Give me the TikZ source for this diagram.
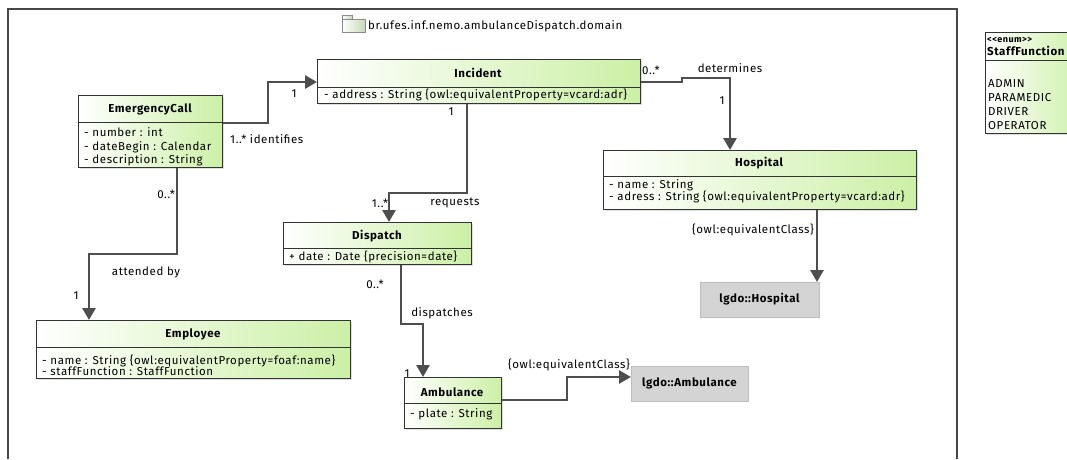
\documentclass[tikz,border=0pt]{standalone}
\usepackage{fontspec}
\setmainfont{Fira Sans}[LetterSpace=5]
\usetikzlibrary{arrows.meta,shadows}

\definecolor{umlgreen}{RGB}{204,240,166}
\definecolor{linegray}{RGB}{78,78,78}
\definecolor{boxgray}{RGB}{212,212,212}
\definecolor{boxedge}{RGB}{190,190,190}
\definecolor{framegray}{RGB}{72,72,72}

\tikzset{
  cls/.style={draw=black!80, line width=0.8pt, left color=white, right color=umlgreen,
    anchor=north west, inner sep=0pt,
    drop shadow={opacity=0.25, shadow xshift=1.5pt, shadow yshift=-1.5pt}},
  ext/.style={draw=boxedge, fill=boxgray, line width=0.8pt, anchor=north west, inner sep=0pt},
  ctitle/.style={font=\fontsize{11.5}{13}\selectfont\bfseries, inner sep=0pt},
  attr/.style={font=\fontsize{11.5}{13}\selectfont, anchor=west, inner sep=0pt,
    text height=8.5pt, text depth=2.5pt},
  lbl/.style={font=\fontsize{11.5}{13}\selectfont, inner sep=0pt},
  sep/.style={draw=black!80, line width=0.8pt},
  assoc/.style={draw=linegray, line width=2.8pt, -{Triangle[length=12pt,width=13pt]}},
}

\begin{document}
\begin{tikzpicture}[x=1pt, y=-1pt]
  \useasboundingbox (0,0) rectangle (1067,459);

  % package frame
  \draw[framegray, line width=1.4pt] (8,459) -- (8,9) -- (957,9) -- (957,459);
  \fill[left color=white, right color=umlgreen!80!black!60, draw=black!45, line width=0.6pt]
    (342,15) rectangle (352,19);
  \fill[left color=white, right color=umlgreen!80!black!60, draw=black!45, line width=0.6pt]
    (342,19) rectangle (365,32);
  \node[lbl, anchor=west] (pkg) at (368,26) {br.ufes.inf.nemo.ambulanceDispatch.domain};

  % EmergencyCall
  \node[cls, minimum width=144, minimum height=72] (call) at (78,95) {};
  \draw[sep] (78,122) -- (222,122);
  \node[ctitle] (callT) at (150,109) {EmergencyCall};
  \node[attr] (callR1) at (84,133) {- number : int};
  \node[attr] (callR2) at (84,147) {- dateBegin : Calendar};
  \node[attr] (callR3) at (84,160) {- description : String};

  % Incident
  \node[cls, minimum width=323, minimum height=44] (incident) at (317,59) {};
  \draw[sep] (317,87) -- (640,87);
  \node[ctitle] (incidentT) at (478,73) {Incident};
  \node[attr] (incidentR1) at (324,95) {- address : String \{owl:equivalentProperty=vcard:adr\}};

  % Dispatch
  \node[cls, minimum width=188, minimum height=42] (dispatch) at (283,222) {};
  \draw[sep] (283,248) -- (471,248);
  \node[ctitle] (dispatchT) at (377,236) {Dispatch};
  \node[attr] (dispatchR1) at (289,257) {+ date : Date \{precision=date\}};

  % Employee
  \node[cls, minimum width=314, minimum height=58] (employee) at (36,320) {};
  \draw[sep] (36,347) -- (350,347);
  \node[ctitle] (employeeT) at (193,334) {Employee};
  \node[attr] (employeeR1) at (42,361) {- name : String \{owl:equivalentProperty=foaf:name\}};
  \node[attr] (employeeR2) at (42,372) {- staffFunction : StaffFunction};

  % Ambulance
  \node[cls, minimum width=97, minimum height=51] (ambulance) at (404,377) {};
  \draw[sep] (404,403) -- (501,403);
  \node[ctitle] (ambulanceT) at (452,392) {Ambulance};
  \node[attr] (ambulanceR1) at (410,414) {- plate : String};

  % Hospital
  \node[cls, minimum width=313, minimum height=59] (hospital) at (603,150) {};
  \draw[sep] (603,176) -- (916,176);
  \node[ctitle] (hospitalT) at (759,163) {Hospital};
  \node[attr] (hospitalR1) at (609,185) {- name : String};
  \node[attr] (hospitalR2) at (609,197) {- adress : String \{owl:equivalentProperty=vcard:adr\}};

  % external classes
  \node[ext, minimum width=119, minimum height=35] (lgdoH) at (700,282) {};
  \node[ctitle] (lgdoHT) at (759.5,299.5) {lgdo::Hospital};
  \node[ext, minimum width=117, minimum height=35] (lgdoA) at (631,366) {};
  \node[ctitle] (lgdoAT) at (689.5,383.5) {lgdo::Ambulance};

  % StaffFunction enum
  \node[cls, minimum width=100, minimum height=101] (staff) at (985,32) {};
  \draw[sep] (985,60) -- (1085,60);
  \node[ctitle, anchor=west, font=\fontsize{9}{10}\selectfont\bfseries] (staffS) at (987,40) {{<}{<}enum{>}{>}};
  \node[ctitle, anchor=west] (staffT) at (987,51) {StaffFunction};
  \node[attr] (staffR1) at (988,84) {ADMIN};
  \node[attr] (staffR2) at (988,98) {PARAMEDIC};
  \node[attr] (staffR3) at (988,112) {DRIVER};
  \node[attr] (staffR4) at (988,126) {OPERATOR};

  % associations
  \draw[assoc] (call.east |- 0,123) -| (268,82) -- (incident.west |- 0,82);
  \draw[assoc] (incident.south -| 467,0) -- (467,193) -| (dispatch.north -| 389,0);
  \draw[assoc] (call.south -| 177,0) -- (177,254) -| (employee.north -| 89,0);
  \draw[assoc] (dispatch.south -| 401,0) -- (401,324) -| (ambulance.north -| 423,0);
  \draw[assoc] (incident.east |- 0,82) -- (682,82) -- (682,78) -| (hospital.north -| 730,0);
  \draw[assoc] (hospital.south -| 817,0) -- (lgdoH.north -| 817,0);
  \draw[assoc] (ambulance.east |- 0,400) -- (567,400) |- (lgdoA.west |- 0,377);

  % association labels
  \node[lbl] (m1) at (294,94) {1};
  \node[lbl, anchor=west] (m2) at (230,139) {1..* identifies};
  \node[lbl] (m3) at (451,112) {1};
  \node[lbl] (m4) at (380,203) {1..*};
  \node[lbl] (n1) at (455,203) {requests};
  \node[lbl, anchor=east] (m5) at (175,194) {0..*};
  \node[lbl] (n2) at (146,272) {attended by};
  \node[lbl] (m6) at (76,296) {1};
  \node[lbl] (m7) at (375,284) {0..*};
  \node[lbl] (n3) at (442,313) {dispatches};
  \node[lbl] (m8) at (407,374) {1};
  \node[lbl, anchor=west] (m9) at (642,70) {0..*};
  \node[lbl] (n4) at (730,68) {determines};
  \node[lbl] (m10) at (722,101) {1};
  \node[lbl, anchor=east] (n5) at (814,230) {\{owl:equivalentClass\}};
  \node[lbl, anchor=east] (n6) at (630,365) {\{owl:equivalentClass\}};
\end{tikzpicture}
\end{document}
